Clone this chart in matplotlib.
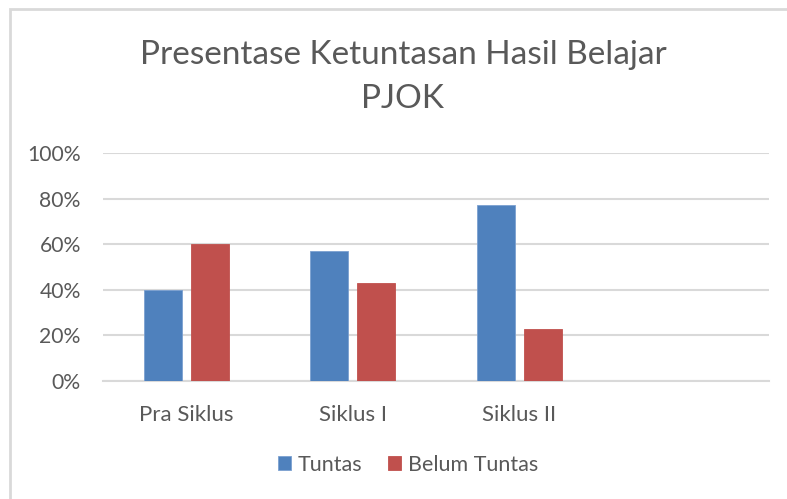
import matplotlib
matplotlib.use("Agg")
import matplotlib.pyplot as plt
from matplotlib.patches import Rectangle
import numpy as np

categories = ["Pra Siklus", "Siklus I", "Siklus II", ""]
tuntas = [0.40, 0.57, 0.77, np.nan]
belum_tuntas = [0.60, 0.43, 0.23, np.nan]
yticks = [0, 0.2, 0.4, 0.6, 0.8, 1.0]
ytick_labels = ["0%", "20%", "40%", "60%", "80%", "100%"]
title = "Presentase Ketuntasan Hasil Belajar\nPJOK"
series_names = ["Tuntas", "Belum Tuntas"]

plt.rcParams['font.family'] = ['Lato', 'DejaVu Sans']
W, H = 787, 499
fig = plt.figure(figsize=(W / 100, H / 100), dpi=100)
fig.patch.set_facecolor("white")

# chart border (right and bottom edges fall outside the picture)
fig.add_artist(Rectangle((10 / W, -0.5), 2, 1.5 - 9 / H, transform=fig.transFigure,
                         fill=False, edgecolor="#d9d9d9", linewidth=2))

ax = fig.add_axes([103 / W, 1 - 381 / H, (769 - 103) / W, (381 - 153) / H])
x = np.arange(len(categories))
bw = 0.228
off = 0.141
ax.bar(x - off, tuntas, bw, color="#4F81BD", edgecolor="#7ba0d0", linewidth=0.6,
       label=series_names[0], zorder=3)
ax.bar(x + off, belum_tuntas, bw, color="#C0504D", edgecolor="#C0504D", linewidth=0.6,
       label=series_names[1], zorder=3)

ax.set_xlim(-0.5, len(categories) - 0.5)
ax.set_ylim(0, 1.0)
ax.set_yticks(yticks)
ax.set_yticklabels(ytick_labels)
ax.set_xticks(x)
ax.set_xticklabels(categories)
ax.tick_params(axis="both", length=0, labelsize=16, labelcolor="#595959")
ax.tick_params(axis="y", pad=16, labelsize=15.2)
ax.tick_params(axis="x", pad=17)
ax.grid(axis="y", color="#d9d9d9", linewidth=1.5, zorder=0)
for s in ["top", "right", "left"]:
    ax.spines[s].set_visible(False)
ax.spines["bottom"].set_color("#d9d9d9")
ax.spines["bottom"].set_linewidth(1.5)

fig.text(403 / W, 1 - 77 / H, title, ha="center", va="center", fontsize=24,
         color="#595959", linespacing=1.55)

leg = fig.legend(loc="center", bbox_to_anchor=(408 / W, 1 - 465 / H), ncol=2,
                 frameon=False, fontsize=15.5, handlelength=0.62, handleheight=0.62,
                 handletextpad=0.3, columnspacing=1.2)
for t in leg.get_texts():
    t.set_color("#595959")

fig.savefig("out.png", dpi=100, facecolor="white")
